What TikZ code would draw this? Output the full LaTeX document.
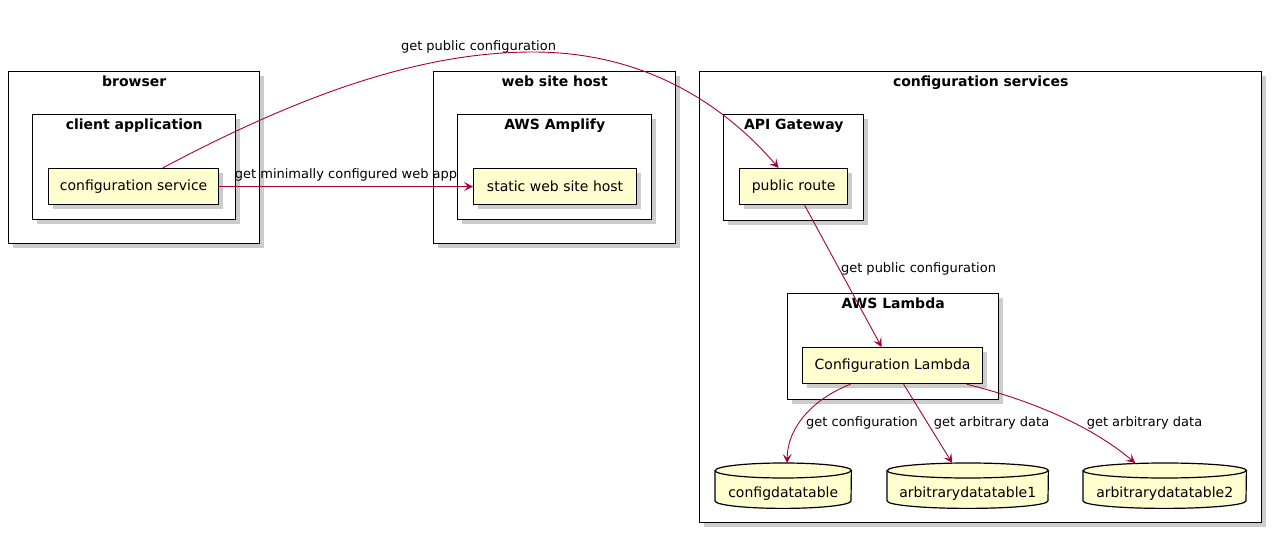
\documentclass[tikz,border=0pt]{standalone}
\usepackage{fontspec}
\setmainfont{DejaVu Sans}
\usetikzlibrary{arrows.meta,shadows}
\definecolor{arrowc}{HTML}{A80036}
\definecolor{elfill}{HTML}{FEFECE}
\newcommand\mydbshape[2]{%
  \begin{scope}[shift={(4pt,-4pt)}]
    \fill[black,opacity=.2] ([yshift=-7.5pt]#1.north west) -- ([yshift=7.5pt]#1.south west) arc[start angle=180,end angle=360,x radius=#2,y radius=7.5pt] -- ([yshift=-7.5pt]#1.north east) arc[start angle=0,end angle=180,x radius=#2,y radius=7.5pt] -- cycle;
  \end{scope}
  \draw[line width=1.2pt,fill=elfill] ([yshift=-7.5pt]#1.north west) -- ([yshift=7.5pt]#1.south west) arc[start angle=180,end angle=360,x radius=#2,y radius=7.5pt] -- ([yshift=-7.5pt]#1.north east) arc[start angle=0,end angle=180,x radius=#2,y radius=7.5pt] -- cycle;
  \draw[line width=1.2pt] ([yshift=-7.5pt]#1.north west) arc[start angle=180,end angle=360,x radius=#2,y radius=7.5pt];
}
\begin{document}
\begin{tikzpicture}[x=1pt,y=-1pt,
  shd/.style={drop shadow={shadow xshift=4pt,shadow yshift=-4pt,fill=black,opacity=.2}},
  pkg/.style={draw=black,line width=1.4pt,fill=white,shd,anchor=north west,inner sep=0pt},
  elem/.style={draw=black,line width=1.2pt,fill=elfill,shd,anchor=north west,inner sep=0pt,font=\fontsize{14}{16}\selectfont},
  ttl/.style={font=\bfseries\fontsize{14}{16}\selectfont,anchor=north,inner sep=0pt},
  lbl/.style={font=\fontsize{13}{15}\selectfont,inner sep=0pt},
  dbbox/.style={anchor=north west,inner sep=0pt,minimum height=45pt},
  dbtext/.style={font=\fontsize{14}{16}\selectfont,inner sep=0pt},
  conn/.style={draw=arrowc,line width=0.9pt,-{Stealth[length=9pt,width=9pt,inset=4pt]}},
]
\useasboundingbox (0,0) rectangle (1272,534);
% packages
\node[pkg,minimum width=251pt,minimum height=172pt] (browser) at (8,71) {};
\node[ttl] (browserT) at ([yshift=-5pt]browser.north) {browser};
\node[pkg,minimum width=242pt,minimum height=172pt] (wsh) at (433,71) {};
\node[ttl] (wshT) at ([yshift=-5pt]wsh.north) {web site host};
\node[pkg,minimum width=562pt,minimum height=451pt] (csv) at (699,71) {};
\node[ttl] (csvT) at ([yshift=-5pt]csv.north) {configuration services};
\node[pkg,minimum width=203pt,minimum height=105pt] (ca) at (32,114) {};
\node[ttl] (caT) at ([yshift=-5pt]ca.north) {client application};
\node[pkg,minimum width=194pt,minimum height=105pt] (amp) at (457,114) {};
\node[ttl] (ampT) at ([yshift=-5pt]amp.north) {AWS Amplify};
\node[pkg,minimum width=140pt,minimum height=106pt] (api) at (723,114) {};
\node[ttl] (apiT) at ([yshift=-5pt]api.north) {API Gateway};
\node[pkg,minimum width=211pt,minimum height=106pt] (awsl) at (787,293) {};
\node[ttl] (awslT) at ([yshift=-5pt]awsl.north) {AWS Lambda};
% elements
\node[elem,minimum width=170pt,minimum height=36pt] (cs) at (48,168) {configuration service};
\node[elem,minimum width=163pt,minimum height=36pt] (sw) at (473,168) {static web site host};
\node[elem,minimum width=108pt,minimum height=36pt] (pr) at (739,168) {public route};
\node[elem,minimum width=180pt,minimum height=36pt] (lam) at (802,347) {Configuration Lambda};
% databases
\node[dbbox,minimum width=136pt] (cdb) at (715,463) {};
\mydbshape{cdb}{68pt}
\node[dbtext] (cdbT) at ([yshift=-8pt]cdb.center) {configdatatable};
\node[dbbox,minimum width=161pt] (a1) at (887,463) {};
\mydbshape{a1}{80.5pt}
\node[dbtext] (a1T) at ([yshift=-8pt]a1.center) {arbitrarydatatable1};
\node[dbbox,minimum width=163pt] (a2) at (1083,463) {};
\mydbshape{a2}{81.5pt}
\node[dbtext] (a2T) at ([yshift=-8pt]a2.center) {arbitrarydatatable2};
% connectors
\draw[conn] (cs.east) -- (sw.west);
\draw[conn] ([xshift=29pt]cs.north) .. controls (300,95) and (420,52) .. (533,52) .. controls (640,52) and (720,100) .. ([xshift=-15pt]pr.north);
\draw[conn] ([xshift=11pt]pr.south) -- ([xshift=-11pt]lam.north);
\draw[conn] ([xshift=-42pt]lam.south) .. controls (810,400) and (787,430) .. ([xshift=4pt]cdb.north);
\draw[conn] ([xshift=11pt]lam.south) -- ([xshift=-15.5pt]a1.north);
\draw[conn] ([xshift=74pt]lam.south) .. controls (1030,400) and (1090,425) .. ([xshift=-29.5pt]a2.north);
% labels
\node[lbl] (l1) at (346,175) {get minimally configured web app};
\node[lbl] (l2) at (478.5,47) {get public configuration};
\node[lbl] (l3) at (918.5,269) {get public configuration};
\node[lbl] (l4) at (862,423) {get configuration};
\node[lbl] (l5) at (991.5,423) {get arbitrary data};
\node[lbl] (l6) at (1144.5,423) {get arbitrary data};
\end{tikzpicture}
\end{document}
